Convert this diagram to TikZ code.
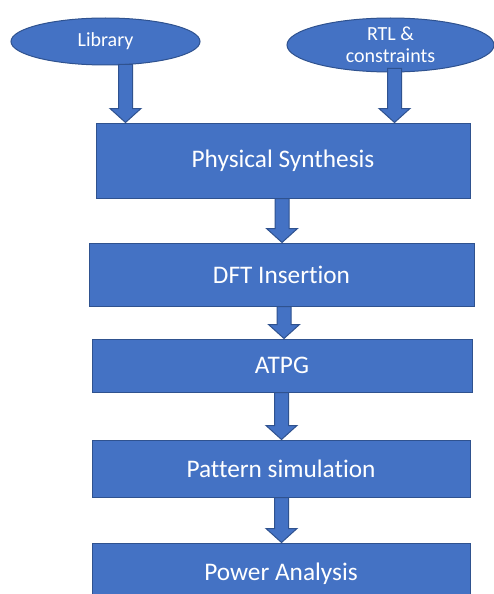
\documentclass[tikz,border=0pt]{standalone}
\usepackage{fontspec}
\setmainfont[Ligatures={NoCommon}]{Carlito}
\usetikzlibrary{calc,shapes.geometric}
\definecolor{blfill}{HTML}{4472C4}
\definecolor{bldraw}{HTML}{2F528F}
\tikzset{
  box/.style={draw=bldraw, fill=blfill, line width=1pt, text=white,
    font=\fontsize{25.3}{29}\selectfont, inner sep=0pt},
  oval/.style={ellipse, draw=bldraw, fill=blfill, line width=1pt, text=white,
    font=\fontsize{20}{22}\selectfont, inner xsep=0pt, inner ysep=-3pt, align=center},
  blk/.style={draw=bldraw, fill=blfill, line width=1pt, line join=miter},
}
\newcommand\blockarrow[2]{\draw[blk] let \p1=#1, \p2=#2 in
  (\x1-7pt,\y1) -- (\x1-7pt,\y2+14pt) -- (\x1-15.5pt,\y2+14pt) -- (\x1,\y2)
  -- (\x1+15.5pt,\y2+14pt) -- (\x1+7pt,\y2+14pt) -- (\x1+7pt,\y1) -- cycle;}
\begin{document}
\begin{tikzpicture}[x=1pt,y=-1pt]
\fill[white] (0,0) rectangle (494,594);
\clip (0,0) rectangle (494,594);
\node[oval, minimum width=189pt, minimum height=47pt] (lib) at (105.5,41.5) {Library};
\node[oval, minimum width=207pt, minimum height=54pt] (rtl) at (390.5,45) {RTL \&\\constraints};
\node[box, minimum width=374pt, minimum height=75pt] (ps) at (283,160.5) {Physical Synthesis};
\node[box, minimum width=385pt, minimum height=63pt] (dft) at (281.5,274.5) {DFT Insertion};
\node[box, minimum width=380pt, minimum height=53pt] (atpg) at (282,365.5) {ATPG};
\node[box, minimum width=378pt, minimum height=57pt] (pat) at (281,468.5) {Pattern simulation};
\node[box, minimum width=378pt, minimum height=62pt] (pow) at (281,574) {Power Analysis};
\blockarrow{($(lib.south)+(20,-1)$)}{(ps.north)}
\blockarrow{($(rtl.south)+(4,-4)$)}{(ps.north)}
\blockarrow{($(ps.south)+(-1,0)$)}{(dft.north)}
\blockarrow{($(dft.south)+(2.5,0)$)}{(atpg.north)}
\blockarrow{($(atpg.south)+(-0.5,0)$)}{(pat.north)}
\blockarrow{($(pat.south)+(0.5,0)$)}{(pow.north)}
\end{tikzpicture}
\end{document}
